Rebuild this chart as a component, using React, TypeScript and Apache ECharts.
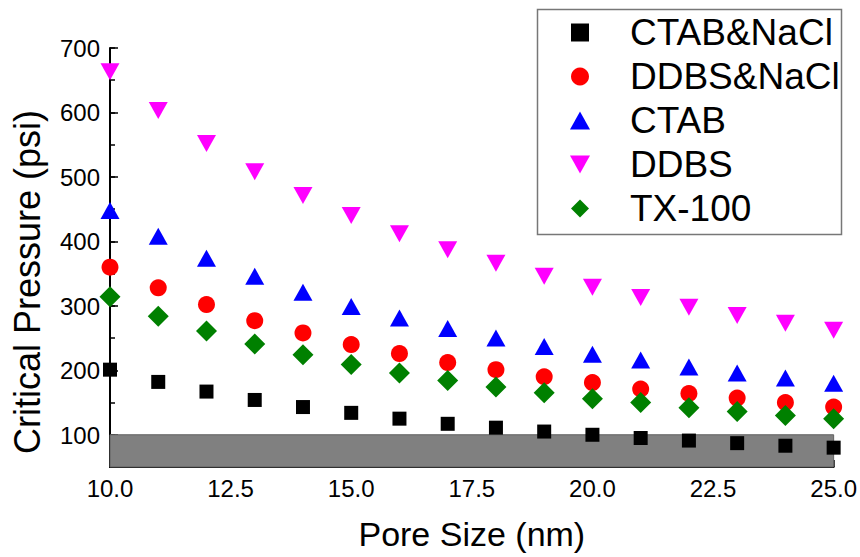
import React, { useEffect, useRef } from "react";
import * as echarts from "echarts";

const poreSizes = [10, 11, 12, 13, 14, 15, 16, 17, 18, 19, 20, 21, 22, 23, 24, 25];
const ctabNacl = [201, 182, 167, 154, 143, 134, 125, 117, 111, 105, 100, 95, 91, 87, 83, 80];
const ddbsNacl = [360, 328, 302, 277, 258, 240, 226, 212, 201, 190, 181, 171, 164, 157, 150, 143];
const ctab = [448, 408, 374, 346, 321, 299, 281, 265, 250, 237, 225, 216, 205, 196, 188, 180];
const ddbs = [663, 603, 552, 508, 471, 440, 412, 387, 366, 346, 329, 313, 298, 285, 273, 262];
const tx100 = [314, 284, 261, 241, 224, 209, 196, 184, 174, 165, 156, 150, 142, 136, 130, 125];
const seriesNames = ["CTAB&NaCl", "DDBS&NaCl", "CTAB", "DDBS", "TX-100"];
const lowRegion = [50, 100];
const yTitle = "Critical Pressure (psi)";
const xTitle = "Pore Size (nm)";

const FONT = "'Liberation Sans', Arial, Helvetica, sans-serif";

const SQUARE = "path://M0,0H10V10H0Z";
const TRI_UP = "path://M5,0L10,9L0,9Z";
const TRI_DOWN = "path://M0,0L10,0L5,9Z";
const DIAMOND = "path://M5,0L10,5L5,10L0,5Z";

export default function App() {
  const ref = useRef<HTMLDivElement>(null);

  useEffect(() => {
    if (!ref.current) return;
    const chart = echarts.init(ref.current, undefined, { renderer: "svg" });
    const pairs = (vals: number[]) => poreSizes.map((x, i) => [x, vals[i]]);
    const defs = [
      { name: seriesNames[0], data: ctabNacl, symbol: SQUARE, size: [14, 14], color: "#000000" },
      { name: seriesNames[1], data: ddbsNacl, symbol: "circle", size: 17, color: "#ff0000" },
      { name: seriesNames[2], data: ctab, symbol: TRI_UP, size: [19, 17], color: "#0000ff" },
      { name: seriesNames[3], data: ddbs, symbol: TRI_DOWN, size: [19, 17], color: "#ff00ff" },
      { name: seriesNames[4], data: tx100, symbol: DIAMOND, size: [21, 21], color: "#008000" },
    ];
    const series: any[] = defs.map((d, i) => {
      const s: any = {
        type: "scatter",
        name: d.name,
        xAxisIndex: 0,
        yAxisIndex: 0,
        data: pairs(d.data),
        symbol: d.symbol,
        symbolSize: d.size,
        itemStyle: { color: d.color, opacity: 1 },
        clip: true,
        z: 3,
      };
      if (i === 0) {
        s.markArea = {
          silent: true,
          z: 1,
          itemStyle: { color: "#808080", borderColor: "#606060", borderWidth: 1 },
          data: [[{ yAxis: lowRegion[0] }, { yAxis: lowRegion[1] }]],
        };
      }
      return s;
    });

    chart.setOption({
      animation: false,
      textStyle: { fontFamily: FONT },
      grid: [
        { left: 110, top: 48, right: 26, bottom: 90, containLabel: false },
        { left: 110, top: 48, right: 26, bottom: 122, containLabel: false },
      ],
      xAxis: [
        {
          type: "value",
          gridIndex: 0,
          min: 10,
          max: 25,
          interval: 2.5,
          name: xTitle,
          nameLocation: "middle",
          nameGap: 50,
          nameTextStyle: { fontSize: 34, color: "#000", fontFamily: FONT },
          axisLine: { show: true, lineStyle: { color: "#000", width: 2 } },
          axisTick: { show: true, inside: true, length: 7, lineStyle: { color: "#000", width: 1.5 } },
          minorTick: { show: true, splitNumber: 2, length: 4, lineStyle: { color: "#000", width: 1.5 } },
          splitLine: { show: false },
          axisLabel: {
            fontSize: 24,
            color: "#000",
            margin: 9,
            fontFamily: FONT,
            formatter: (v: number) => v.toFixed(1),
          },
        },
        { type: "value", gridIndex: 1, min: 10, max: 25, show: false },
      ],
      yAxis: [
        {
          type: "value",
          gridIndex: 0,
          min: 50,
          max: 700,
          interval: 50,
          axisLine: { show: true, lineStyle: { color: "#000", width: 2 } },
          axisTick: { show: true, inside: true, length: 5, lineStyle: { color: "#000", width: 1.5 } },
          splitLine: { show: false },
          axisLabel: { show: false },
        },
        {
          type: "value",
          gridIndex: 1,
          min: 100,
          max: 700,
          interval: 100,
          axisLine: { show: false },
          axisTick: { show: true, inside: true, length: 8, lineStyle: { color: "#000", width: 1.5 } },
          splitLine: { show: false },
          axisLabel: {
            fontSize: 24,
            color: "#000",
            margin: 10,
            fontFamily: FONT,
          },
        },
      ],
      legend: {
        orient: "vertical",
        left: 570,
        top: 14,
        padding: 0,
        itemWidth: 90,
        itemHeight: 18,
        itemGap: 7,
        selectedMode: false,
        textStyle: { fontSize: 37, color: "#000", fontFamily: FONT },
        data: defs.map((d) => ({ name: d.name, icon: d.symbol, itemStyle: { color: d.color } })),
      },
      graphic: [
        {
          type: "rect",
          left: 535,
          top: 7,
          shape: { width: 304, height: 225 },
          style: { fill: "none", stroke: "#777", lineWidth: 1.5 },
          z: 10,
        },
        {
          type: "text",
          x: 27,
          y: 282,
          rotation: Math.PI / 2,
          style: {
            text: yTitle,
            fontSize: 36,
            fontFamily: FONT,
            fill: "#000",
            textAlign: "center",
            textVerticalAlign: "middle",
          },
          z: 10,
        },
      ],
      series,
    });
    return () => chart.dispose();
  }, []);

  return (
    <div
      ref={ref}
      style={{ position: "fixed", left: 0, top: 0, width: 860, height: 557, background: "#fff" }}
    />
  );
}
